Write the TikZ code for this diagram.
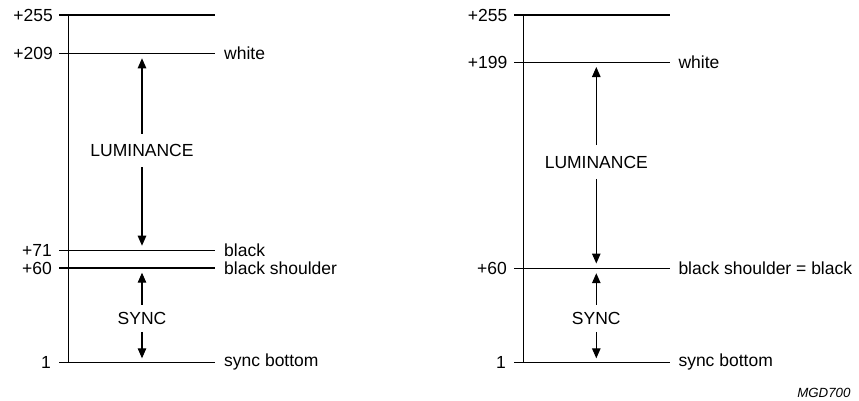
\documentclass[tikz,border=0pt]{standalone}
\usepackage{fontspec}
\setmainfont{Liberation Sans}
\usetikzlibrary{arrows.meta}
\begin{document}
\begin{tikzpicture}[x=1pt,y=-1pt,
  lvl/.style={line width=1.2pt},
  axis/.style={line width=1.2pt},
  arr/.style={line width=1.1pt,-{Triangle[length=10pt,width=8.5pt]}},
  lab/.style={inner sep=0pt,font=\fontsize{17.5}{20}\selectfont},
  vl/.style={lab,anchor=east},
  nm/.style={lab,anchor=west},
  mid/.style={lab,text height=12.5pt,text depth=0pt,inner xsep=0pt},
]
\useasboundingbox (0,0) rectangle (859,400);
% ---------- left diagram ----------
\draw[axis] (68.5,15) -- (68.5,362.3);
\foreach \y/\n in {15/a255,53.7/a209,250.7/a71,268/a60,362.3/a1}{
  \coordinate (\n L) at (59,\y);
  \coordinate (\n R) at (215,\y);
  \draw[lvl] (\n L) -- (\n R);
}
\node[vl] (la255) at (53,15) {+255};
\node[vl] (la209) at (53,53.7) {+209};
\node[vl] (la71) at (52,250.7) {+71};
\node[vl] (la60) at (52,268) {+60};
\node[vl] (la1) at (51,362.3) {1};
\node[nm] (nwA) at (224,53.7) {white};
\node[nm] (nbA) at (224,250.7) {black};
\node[nm] (nbsA) at (224,268) {black shoulder};
\node[nm] (nsbA) at (224,362.3) {sync bottom};
\node[mid,inner ysep=10.3pt] (lumA) at (142,150.7) {LUMINANCE};
\coordinate (lumAt) at (142,58.3);
\coordinate (lumAb) at (142,245.7);
\draw[arr] (lumA.north) -- (lumAt);
\draw[arr] (lumA.south) -- (lumAb);
\node[mid,inner ysep=7pt] (syncA) at (142,318.3) {SYNC};
\coordinate (syncAt) at (142,272.7);
\coordinate (syncAb) at (142,358.3);
\draw[arr] (syncA.north) -- (syncAt);
\draw[arr] (syncA.south) -- (syncAb);
% ---------- right diagram ----------
\draw[axis] (523.3,15) -- (523.3,362.3);
\foreach \y/\n in {15/b255,62.3/b199,268.3/b60,362.3/b1}{
  \coordinate (\n L) at (514,\y);
  \coordinate (\n R) at (670,\y);
  \draw[lvl] (\n L) -- (\n R);
}
\node[vl] (lb255) at (507.5,15) {+255};
\node[vl] (lb199) at (507.5,62.3) {+199};
\node[vl] (lb60) at (507,268.3) {+60};
\node[vl] (lb1) at (506,362.3) {1};
\node[nm] (nwB) at (678.3,62.3) {white};
\node[nm] (nbsB) at (678.3,268.3) {black shoulder = black};
\node[nm] (nsbB) at (678.3,362.3) {sync bottom};
\node[mid,inner ysep=10.5pt] (lumB) at (596.3,162) {LUMINANCE};
\coordinate (lumBt) at (596.3,67);
\coordinate (lumBb) at (596.3,263.5);
\draw[arr] (lumB.north) -- (lumBt);
\draw[arr] (lumB.south) -- (lumBb);
\node[mid,inner ysep=7pt] (syncB) at (596.3,318.3) {SYNC};
\coordinate (syncBt) at (596.3,273.2);
\coordinate (syncBb) at (596.3,358.3);
\draw[arr] (syncB.north) -- (syncBt);
\draw[arr] (syncB.south) -- (syncBb);
\node[inner sep=0pt,anchor=east,font=\fontsize{13.3}{15}\selectfont\itshape] (code) at (850.7,392.6) {MGD700};
\end{tikzpicture}
\end{document}
